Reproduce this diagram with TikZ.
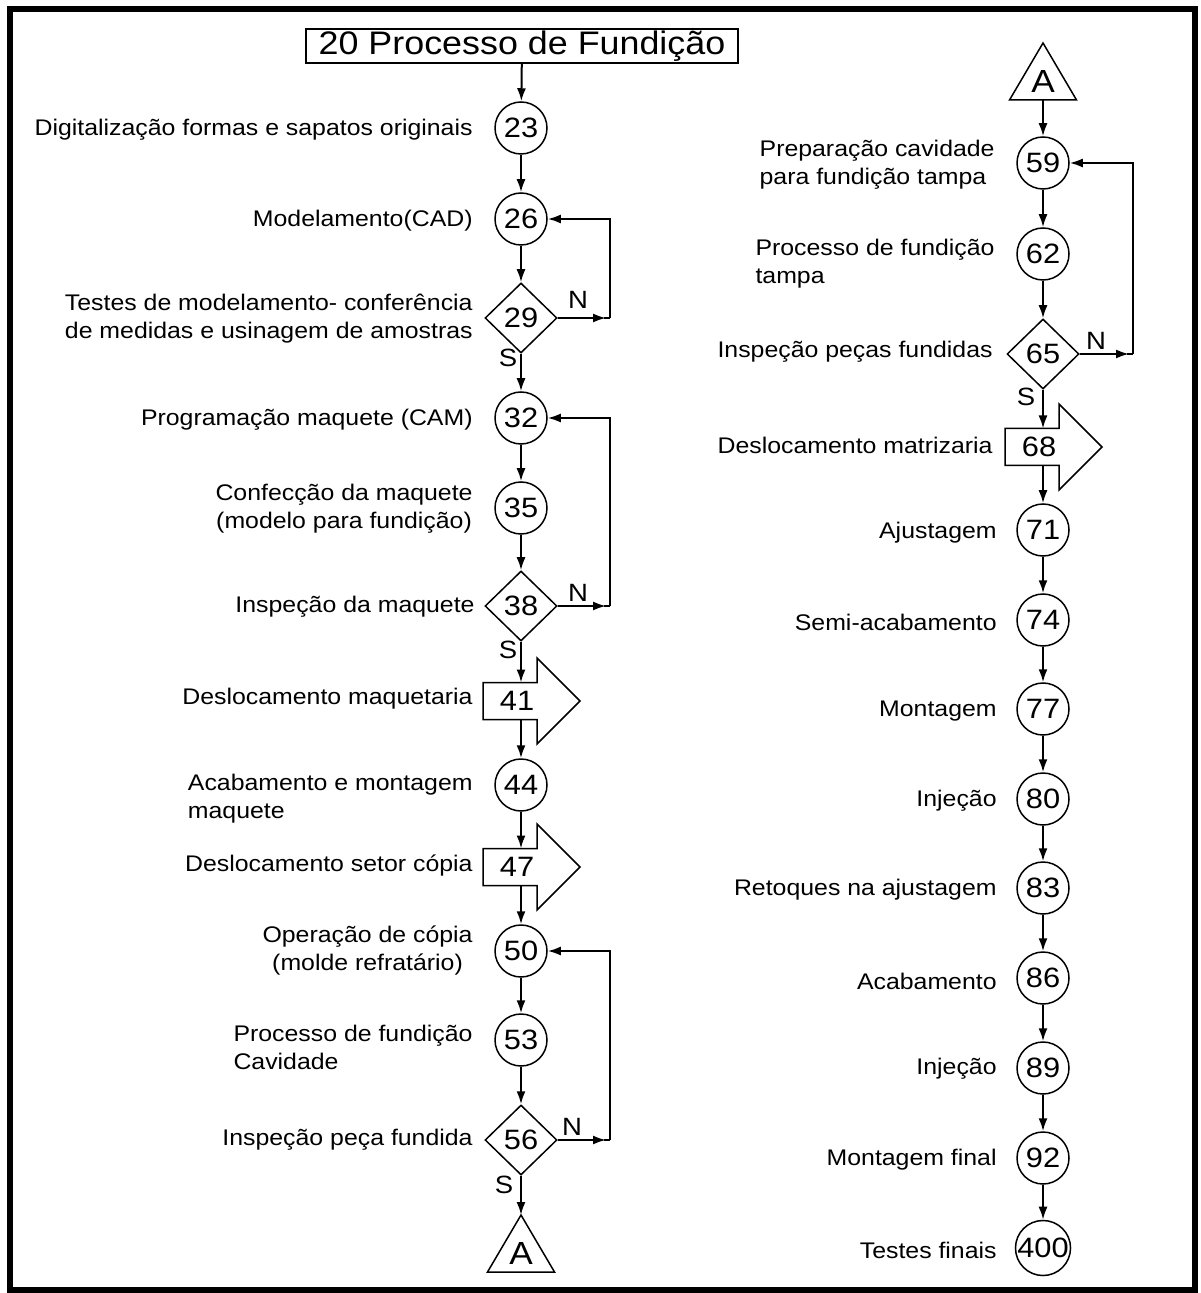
\documentclass[tikz,border=0pt]{standalone}
\usepackage{fontspec}
\setmainfont{Liberation Sans}[FakeStretch=1.1]
\usetikzlibrary{shapes.geometric,arrows.meta}

\begin{document}
\begin{tikzpicture}[x=0.5pt,y=-0.5pt,
  every node/.style={inner sep=0pt},
  shapeline/.style={draw,line width=0.75pt},
  op/.style={shapeline,circle,minimum size=26pt,font=\fontsize{14}{16}\selectfont},
  test/.style={shapeline,diamond,minimum width=36pt,minimum height=35pt,font=\fontsize{14}{16}\selectfont},
  lbl/.style={anchor=east,yshift=-1pt,font=\fontsize{11.3}{14}\selectfont},
  yn/.style={font=\fontsize{12.5}{14}\selectfont},
  flow/.style={draw,line width=1pt,-{Latex[length=6.5pt,width=4.5pt]}},
  loopline/.style={draw,line width=1pt},
  pics/movebox/.style={code={
    \draw[shapeline] (-38,-18.5) -- (16,-18.5) -- (16,-43) -- (59,0) -- (16,43)
      -- (16,18.5) -- (-38,18.5) -- cycle;
    \node[font=\fontsize{14}{16}\selectfont] at (-4,0) {#1};
    \coordinate (-t) at (0,-18.5);
    \coordinate (-b) at (0,18.5);
  }},
  pics/connector/.style={code={
    \draw[shapeline] (0,-28.5) -- (33.5,28.5) -- (-33.5,28.5) -- cycle;
    \node[font=\fontsize{16}{18}\selectfont] at (0,10) {A};
    \coordinate (-top) at (0,-28.5);
    \coordinate (-bot) at (0,28.5);
  }}
]
\useasboundingbox (0,0) rectangle (1200,1293);
\fill[white] (0,0) rectangle (1200,1293);
\draw[line width=3pt] (9.5,9) rectangle (1195,1290);

% ---------- left column ----------
\node[draw,line width=1pt,minimum width=216pt,minimum height=17pt,
      font=\fontsize{16.3}{18}\selectfont] (title) at (522,46) {20 Processo de Fundição};

\node[op] (c23) at (521,128) {23};
\node[op] (c26) at (521,219) {26};
\node[test] (d29) at (521,318) {29};
\node[op] (c32) at (521,418) {32};
\node[op] (c35) at (521,508) {35};
\node[test] (d38) at (521,606) {38};
\pic (a41) at (521,701) {movebox=41};
\node[op] (c44) at (521,785) {44};
\pic (a47) at (521,867) {movebox=47};
\node[op] (c50) at (521,951) {50};
\node[op] (c53) at (521,1040) {53};
\node[test] (d56) at (521,1140) {56};
\pic (ta) at (521,1243.5) {connector};

\node[lbl] at (473,128) {Digitalização formas e sapatos originais};
\node[lbl] at (473,219) {Modelamento(CAD)};
\node[lbl,align=left] at (473,317) {Testes de modelamento- conferência\\de medidas e usinagem de amostras};
\node[lbl] at (473,418) {Programação maquete (CAM)};
\node[lbl,align=center] at (473,507) {Confecção da maquete\\(modelo para fundição)};
\node[lbl] at (475,605) {Inspeção da maquete};
\node[lbl] at (473,697) {Deslocamento maquetaria};
\node[lbl,align=left] at (473,797) {Acabamento e montagem\\maquete};
\node[lbl] at (473,864) {Deslocamento setor cópia};
\node[lbl,align=center] at (473,949) {Operação de cópia\\(molde refratário)};
\node[lbl,align=left] at (473,1045) {Processo de fundição\\Cavidade};
\node[lbl] at (473,1138) {Inspeção peça fundida};

\path[flow] (title) -- (c23);
\path[flow] (c23) -- (c26);
\path[flow] (c26) -- (d29);
\path[flow] (d29) -- (c32);
\path[flow] (c32) -- (c35);
\path[flow] (c35) -- (d38);
\path[flow] (d38) -- (a41-t);
\path[flow] (a41-b) -- (c44);
\path[flow] (c44) -- (a47-t);
\path[flow] (a47-b) -- (c50);
\path[flow] (c50) -- (c53);
\path[flow] (c53) -- (d56);
\path[flow] (d56) -- (ta-top);

\coordinate (r29) at (610,318);
\coordinate (r38) at (610,606);
\coordinate (r56) at (610,1140);
\path[flow] (d29.east) -- ([xshift=-2]r29);
\path[loopline] ([xshift=-3]r29) -- (r29);
\path[flow] (r29) |- (c26.east);
\path[flow] (d38.east) -- ([xshift=-2]r38);
\path[loopline] ([xshift=-3]r38) -- (r38);
\path[flow] (r38) |- (c32.east);
\path[flow] (d56.east) -- ([xshift=-2]r56);
\path[loopline] ([xshift=-3]r56) -- (r56);
\path[flow] (r56) |- (c50.east);

\node[yn] at (578,300) {N};
\node[yn] at (508,358) {S};
\node[yn] at (578,593) {N};
\node[yn] at (508,650) {S};
\node[yn] at (572,1127) {N};
\node[yn] at (504,1185) {S};

% ---------- right column ----------
\pic (tb) at (1043,71.5) {connector};
\node[op] (c59) at (1043,163) {59};
\node[op] (c62) at (1043,254) {62};
\node[test] (d65) at (1043,354) {65};
\pic (a68) at (1043,447) {movebox=68};
\node[op] (c71) at (1043,530) {71};
\node[op] (c74) at (1043,620) {74};
\node[op] (c77) at (1043,709) {77};
\node[op] (c80) at (1043,799) {80};
\node[op] (c83) at (1043,888) {83};
\node[op] (c86) at (1043,978) {86};
\node[op] (c89) at (1043,1068) {89};
\node[op] (c92) at (1043,1158) {92};
\node[op] (c400) at (1043,1248) {400};

\node[lbl,align=left] at (995,163) {Preparação cavidade\\para fundição tampa};
\node[lbl,align=left] at (995,262) {Processo de fundição\\tampa};
\node[lbl] at (993,350) {Inspeção peças fundidas};
\node[lbl] at (993,443) {Deslocamento matrizaria};
\node[lbl] at (997,531) {Ajustagem};
\node[lbl] at (997,620) {Semi-acabamento};
\node[lbl] at (997,709) {Montagem};
\node[lbl] at (997,799) {Injeção};
\node[lbl] at (997,888) {Retoques na ajustagem};
\node[lbl] at (997,979) {Acabamento};
\node[lbl] at (997,1067) {Injeção};
\node[lbl] at (997,1158) {Montagem final};
\node[lbl] at (997,1248) {Testes finais};

\path[flow] (tb-bot) -- (c59);
\path[flow] (c59) -- (c62);
\path[flow] (c62) -- (d65);
\path[flow] (d65) -- (a68-t);
\path[flow] (a68-b) -- (c71);
\path[flow] (c71) -- (c74);
\path[flow] (c74) -- (c77);
\path[flow] (c77) -- (c80);
\path[flow] (c80) -- (c83);
\path[flow] (c83) -- (c86);
\path[flow] (c86) -- (c89);
\path[flow] (c89) -- (c92);
\path[flow] (c92) -- (c400);

\coordinate (r65) at (1133,354);
\path[flow] (d65.east) -- ([xshift=-2]r65);
\path[loopline] ([xshift=-3]r65) -- (r65);
\path[flow] (r65) |- (c59.east);

\node[yn] at (1096,341) {N};
\node[yn] at (1026,397) {S};
\end{tikzpicture}
\end{document}
